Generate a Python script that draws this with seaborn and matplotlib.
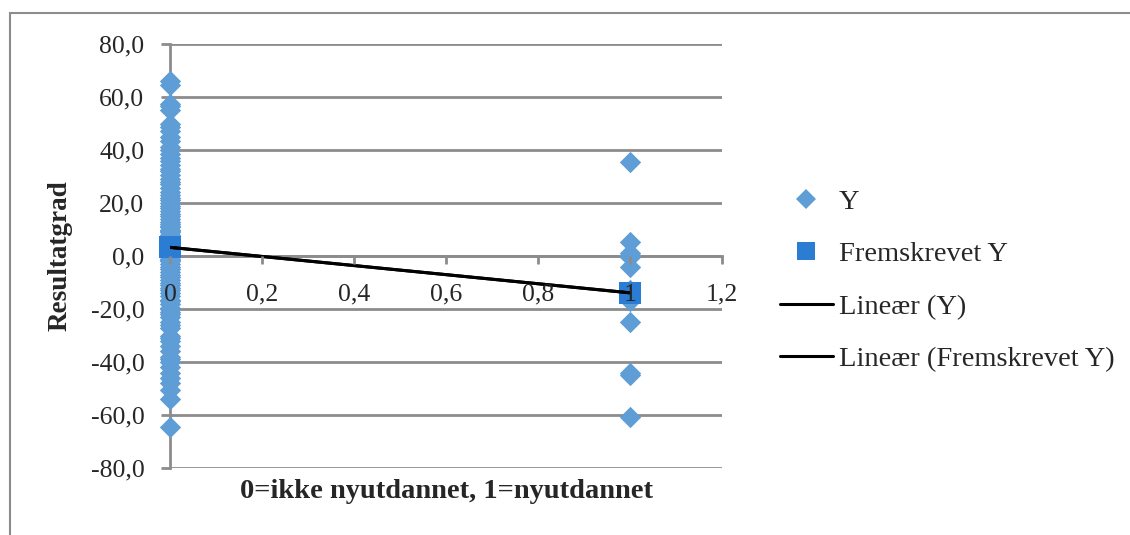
import numpy as np
import pandas as pd
import matplotlib
matplotlib.use("Agg")
import matplotlib.pyplot as plt
import seaborn as sns
from matplotlib.lines import Line2D
from matplotlib.patches import Rectangle
from matplotlib.ticker import FuncFormatter

# ---- data ----
groups = [0, 1]
y_group0 = [66.0, 64.5, 57.5, 56.5, 55.0, 50.0, 48.5, 47.0, 45.0, 43.5,
            41.0, 40.0, 38.5, 37.0, 36.0, 34.5, 33.0, 32.0, 30.5, 29.0,
            28.0, 27.0, 25.5, 24.0, 23.0, 22.0, 21.0, 20.0, 19.0, 18.0,
            17.0, 16.0, 15.0, 14.0, 13.0, 12.0, 11.5, 11.0, 10.0, 9.5,
            9.0, 8.0, 7.5, 7.0, 6.0, 5.5, 5.0, 4.5, 4.0, 3.5,
            3.0, 2.5, 2.0, 1.5, 1.0, 0.5, 0.0, -0.5, -1.0, -1.5,
            -2.0, -3.0, -4.0, -5.0, -6.0, -7.0, -8.0, -9.0, -10.0, -11.0,
            -12.0, -13.0, -14.0, -15.0, -16.5, -17.0, -18.0, -19.5, -20.0, -21.0,
            -22.0, -23.0, -25.0, -26.0, -27.0, -30.0, -31.0, -32.0, -34.0, -36.0,
            -38.0, -39.0, -40.0, -42.0, -44.0, -46.0, -48.0, -50.5, -54.0, -64.5]
y_group1 = [35.6, 5.4, 1.0, 0.3, -0.5, -4.0, -13.0, -17.0, -24.8, -44.2, -45.0, -60.6]

x_ticks = [0, 0.2, 0.4, 0.6, 0.8, 1.0, 1.2]
y_ticks = [-80, -60, -40, -20, 0, 20, 40, 60, 80]
series_labels = ["Y", "Fremskrevet Y", "Lineær (Y)", "Lineær (Fremskrevet Y)"]
x_title = "0=ikke nyutdannet, 1=nyutdannet"
y_title = "Resultatgrad"

# ---- build table ----
xs = np.array([groups[0]] * len(y_group0) + [groups[1]] * len(y_group1), dtype=float)
ys = np.array(y_group0 + y_group1, dtype=float)
slope, intercept = np.polyfit(xs, ys, 1)
df = pd.DataFrame({"x": xs, "Y": ys, "Fremskrevet Y": intercept + slope * xs})

C_Y = "#5E9DD5"
C_F = "#2B7CD3"
GRID = "#8C8C8C"
FONT = ["Liberation Serif", "DejaVu Serif"]

sns.set_style("white")
plt.rcParams["font.family"] = FONT
plt.rcParams["font.size"] = 18

fig = plt.figure(figsize=(11.3, 5.35), dpi=100)
W, H = 1130, 535
ax = fig.add_axes([170 / W, (H - 468) / H, 552 / W, 424 / H])

sns.scatterplot(data=df, x="x", y="Y", marker="D", color=C_Y, s=118,
                linewidth=0, ax=ax, legend=False, zorder=2, clip_on=False)
sns.scatterplot(data=df, x="x", y="Fremskrevet Y", marker="s", color=C_F, s=235,
                linewidth=0, ax=ax, legend=False, zorder=2.2, clip_on=False)
sns.regplot(data=df, x="x", y="Y", scatter=False, ci=None, truncate=True,
            color="black", line_kws={"lw": 2.2, "zorder": 3}, ax=ax)
sns.regplot(data=df, x="x", y="Fremskrevet Y", scatter=False, ci=None, truncate=True,
            color="black", line_kws={"lw": 2.2, "zorder": 3}, ax=ax)

ax.set_xlim(0, 1.2)
ax.set_ylim(-80, 80)
ax.set_xticks(x_ticks)
ax.set_yticks(y_ticks)
ax.xaxis.set_major_formatter(FuncFormatter(lambda v, p: f"{v:g}".replace(".", ",")))
ax.yaxis.set_major_formatter(FuncFormatter(lambda v, p: f"{v:.1f}".replace(".", ",")))

ax.grid(axis="y", color=GRID, lw=2)
ax.grid(axis="x", visible=False)
ax.set_axisbelow(True)
ax.xaxis.set_zorder(3.5)

for s in ["top", "right"]:
    ax.spines[s].set_visible(False)
ax.spines["bottom"].set_position(("data", 0))
for s in ["left", "bottom"]:
    ax.spines[s].set_color(GRID)
    ax.spines[s].set_linewidth(2)
    ax.spines[s].set_zorder(0.6)

ax.tick_params(axis="y", direction="out", length=6.5, width=2, color=GRID, pad=12,
               labelsize=18.5, left=True)
ax.tick_params(axis="x", direction="out", length=6, width=2, color=GRID, pad=14,
               labelsize=18.5, bottom=True)

ax.set_xlabel(x_title, fontsize=20.5, fontweight="bold")
ax.set_ylabel(y_title, fontsize=19.5, fontweight="bold")
ax.xaxis.set_label_coords(0.5, -0.026)
ax.yaxis.set_label_coords(-0.177, 0.5)

handles = [
    Line2D([], [], ls="none", marker="D", color=C_Y, markersize=10, markeredgewidth=0),
    Line2D([], [], ls="none", marker="s", color=C_F, markersize=13, markeredgewidth=0),
    Line2D([], [], color="black", lw=2.2),
    Line2D([], [], color="black", lw=2.2),
]
fig.legend(handles, series_labels, loc="upper left",
           bbox_to_anchor=(780 / W, 1 - 189 / H), frameon=False, fontsize=20.5,
           handlelength=1.85, handletextpad=0.22, labelspacing=0.93,
           borderpad=0, borderaxespad=0)

fig.add_artist(Rectangle((10 / W, -0.1), 1.2, (1 - 13 / H) + 0.1,
                         transform=fig.transFigure, fill=False,
                         edgecolor="#8C8C8C", lw=1.5))

fig.savefig("out.png", dpi=100)
